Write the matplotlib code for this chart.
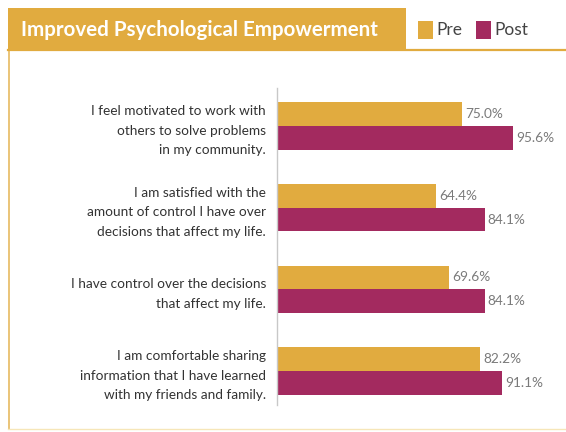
import matplotlib.pyplot as plt
from matplotlib.patches import Rectangle
from matplotlib.lines import Line2D

plt.rcParams['font.family'] = ['Lato', 'DejaVu Sans']

statements = [
    "I feel motivated to work with\nothers to solve problems\nin my community.",
    "I am satisfied with the\namount of control I have over\ndecisions that affect my life.",
    "I have control over the decisions\nthat affect my life.",
    "I am comfortable sharing\ninformation that I have learned\nwith my friends and family.",
]
pre = [75.0, 64.4, 69.6, 82.2]
post = [95.6, 84.1, 84.1, 91.1]

GOLD = '#E1AB3F'
PLUM = '#A32A5F'
W, H = 566, 432

fig = plt.figure(figsize=(W / 100, H / 100), dpi=100)

def px(x, y):
    # pixel position (from top-left) to figure fraction
    return x / W, 1 - y / H

# title band and outline box
x0, y0 = px(8, 50)
fig.patches.append(Rectangle((x0, y0), (406 - 8) / W, 42 / H, transform=fig.transFigure,
                             facecolor=GOLD, edgecolor='none'))
fig.lines.append(Line2D([px(8, 0)[0], 1], [px(0, 49.5)[1]] * 2, transform=fig.transFigure,
                        color=GOLD, lw=1.6))
fig.lines.append(Line2D([px(8.5, 0)[0]] * 2, [px(0, 49)[1], px(0, 429)[1]],
                        transform=fig.transFigure, color=GOLD, lw=1.4, alpha=0.7))
fig.lines.append(Line2D([px(8, 0)[0], 1], [px(0, 428.5)[1]] * 2, transform=fig.transFigure,
                        color='#F6E6B8', lw=1.0))

tx, ty = px(21, 30)
fig.text(tx, ty, "Improved Psychological Empowerment", color='white', fontsize=14.8,
         fontweight='bold', va='center', ha='left')

# legend
for (lx, label, col) in [(418, "Pre", GOLD), (476, "Post", PLUM)]:
    sx, sy = px(lx, 39)
    fig.patches.append(Rectangle((sx, sy), 15 / W, 18 / H, transform=fig.transFigure,
                                 facecolor=col, edgecolor='none'))
    lx2, ly2 = px(lx + 18, 30)
    fig.text(lx2, ly2, label, color='#444444', fontsize=12.5, va='center', ha='left')

# bar chart
left, bottom = px(277, 405)
ax = fig.add_axes([left, bottom, 247 / W, (405 - 88) / H])
ax.set_xlim(0, 100)
ax.set_ylim(3.416, -0.465)

ypos = list(range(len(statements)))
h = 0.29
ax.barh([y - h / 2 for y in ypos], pre, height=h, color=GOLD)
ax.barh([y + h / 2 for y in ypos], post, height=h, color=PLUM)

for y, a, b in zip(ypos, pre, post):
    ax.text(a + 1.2, y - h / 2, f"{a:.1f}%", va='center', ha='left', fontsize=9.8, color='#7a7a7a')
    ax.text(b + 1.2, y + h / 2, f"{b:.1f}%", va='center', ha='left', fontsize=9.8, color='#7a7a7a')

ax.set_yticks(ypos)
ax.set_yticklabels(statements, fontsize=9.8, color='#333333', linespacing=1.75, ha='right')
ax.tick_params(axis='y', length=0, pad=8)
ax.set_xticks([])
for s in ['top', 'right', 'bottom']:
    ax.spines[s].set_visible(False)
ax.spines['left'].set_color('#c8c8c8')
ax.spines['left'].set_linewidth(1.0)

fig.savefig('out.png', dpi=100)
